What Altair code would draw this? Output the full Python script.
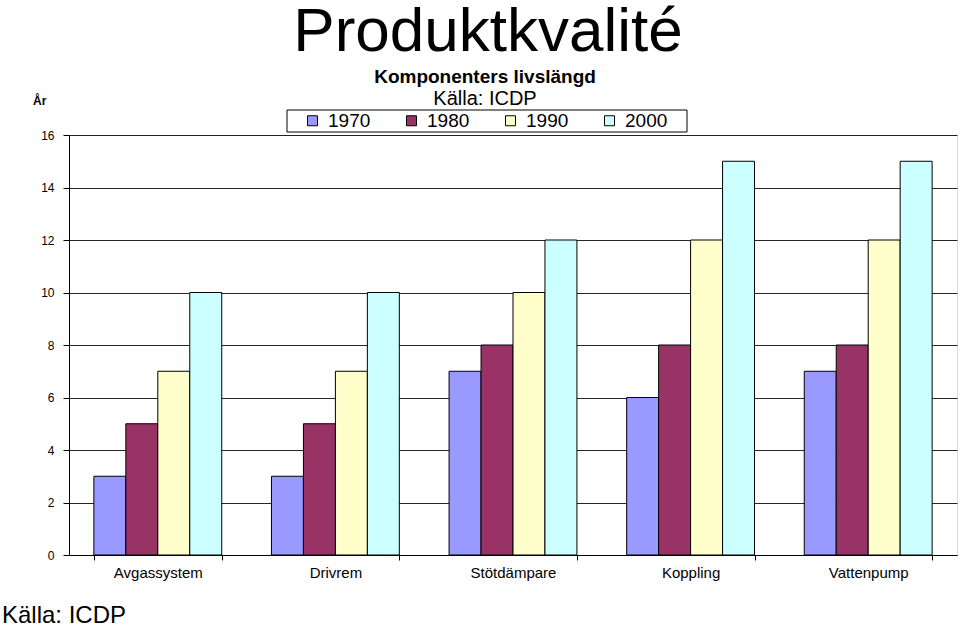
import altair as alt
import pandas as pd

categories = ["Avgassystem", "Drivrem", "Stötdämpare", "Koppling", "Vattenpump"]
years = ["1970", "1980", "1990", "2000"]
v1970 = [3, 3, 7, 6, 7]
v1980 = [5, 5, 8, 8, 8]
v1990 = [7, 7, 10, 12, 12]
v2000 = [10, 10, 12, 15, 15]
colors = ["#9999FF", "#993366", "#FFFFCC", "#CCFFFF"]
y_ticks = [0, 2, 4, 6, 8, 10, 12, 14, 16]

main_title = "Produktkvalité"
sub_title = "Komponenters livslängd"
source = "Källa: ICDP"
y_title = "År"

rows = []
for yr, vals in zip(years, [v1970, v1980, v1990, v2000]):
    for c, v in zip(categories, vals):
        rows.append({"Komponent": c, "År": yr, "Värde": v})
df = pd.DataFrame(rows)

FONT = "Liberation Sans"

bars = alt.Chart(df).mark_bar(stroke="black", strokeWidth=1).encode(
    x=alt.X("Komponent:N", sort=categories,
            scale=alt.Scale(paddingInner=0.28, paddingOuter=0.14),
            axis=alt.Axis(title=None, tickBand="extent", labelFontSize=15, labelColor="black",
                          labelFont=FONT, labelPadding=5, tickSize=5, tickColor="black",
                          domainColor="black", labelAngle=0, grid=False)),
    xOffset=alt.XOffset("År:N", sort=years, scale=alt.Scale(paddingInner=0, paddingOuter=0)),
    y=alt.Y("Värde:Q", scale=alt.Scale(domain=[0, 16], nice=False),
            axis=alt.Axis(title=None, values=y_ticks, labelFontSize=12, labelColor="black",
                          labelFont=FONT, labelPadding=9, tickSize=6, tickColor="black",
                          domainColor="black", gridColor="black", gridWidth=1, gridOpacity=0.85)),
    color=alt.Color("År:N", sort=years, scale=alt.Scale(domain=years, range=colors),
                    legend=alt.Legend(title=None, orient="none", legendX=233, legendY=-25,
                                      direction="horizontal", symbolType="square", symbolSize=100,
                                      symbolStrokeColor="black", symbolStrokeWidth=1,
                                      labelFontSize=19, labelFont=FONT, labelColor="black",
                                      labelOffset=6, columnPadding=31, padding=1)),
)

legend_box = alt.Chart(pd.DataFrame({"k": [0]})).mark_rect(
    fill="white", stroke="black", strokeWidth=1
).encode(x=alt.value(218), x2=alt.value(618), y=alt.value(-25), y2=alt.value(-3))

def txt(t, x, y, size, bold=False, align="center"):
    return alt.Chart(pd.DataFrame({"t": [t]})).mark_text(
        fontSize=size, font=FONT, fontWeight="bold" if bold else "normal",
        align=align, baseline="alphabetic", color="black"
    ).encode(text="t:N", x=alt.value(x), y=alt.value(y))

chart = alt.layer(
    legend_box,
    bars,
    txt(main_title, 419, -84, 62),
    txt(sub_title, 416, -52, 19, bold=True),
    txt(source, 416, -30, 20),
    txt(y_title, -36, -30, 12, bold=True, align="left"),
    txt(source, -67, 488, 24, align="left"),
).properties(
    width=888, height=420,
    autosize=alt.AutoSizeParams(type="none"),
    padding={"left": 69, "top": 135, "right": 3, "bottom": 73},
).configure_view(stroke="#808080", strokeWidth=1).configure(background="white")

chart.save("out.html", embed_options={"renderer": "svg", "actions": False})
